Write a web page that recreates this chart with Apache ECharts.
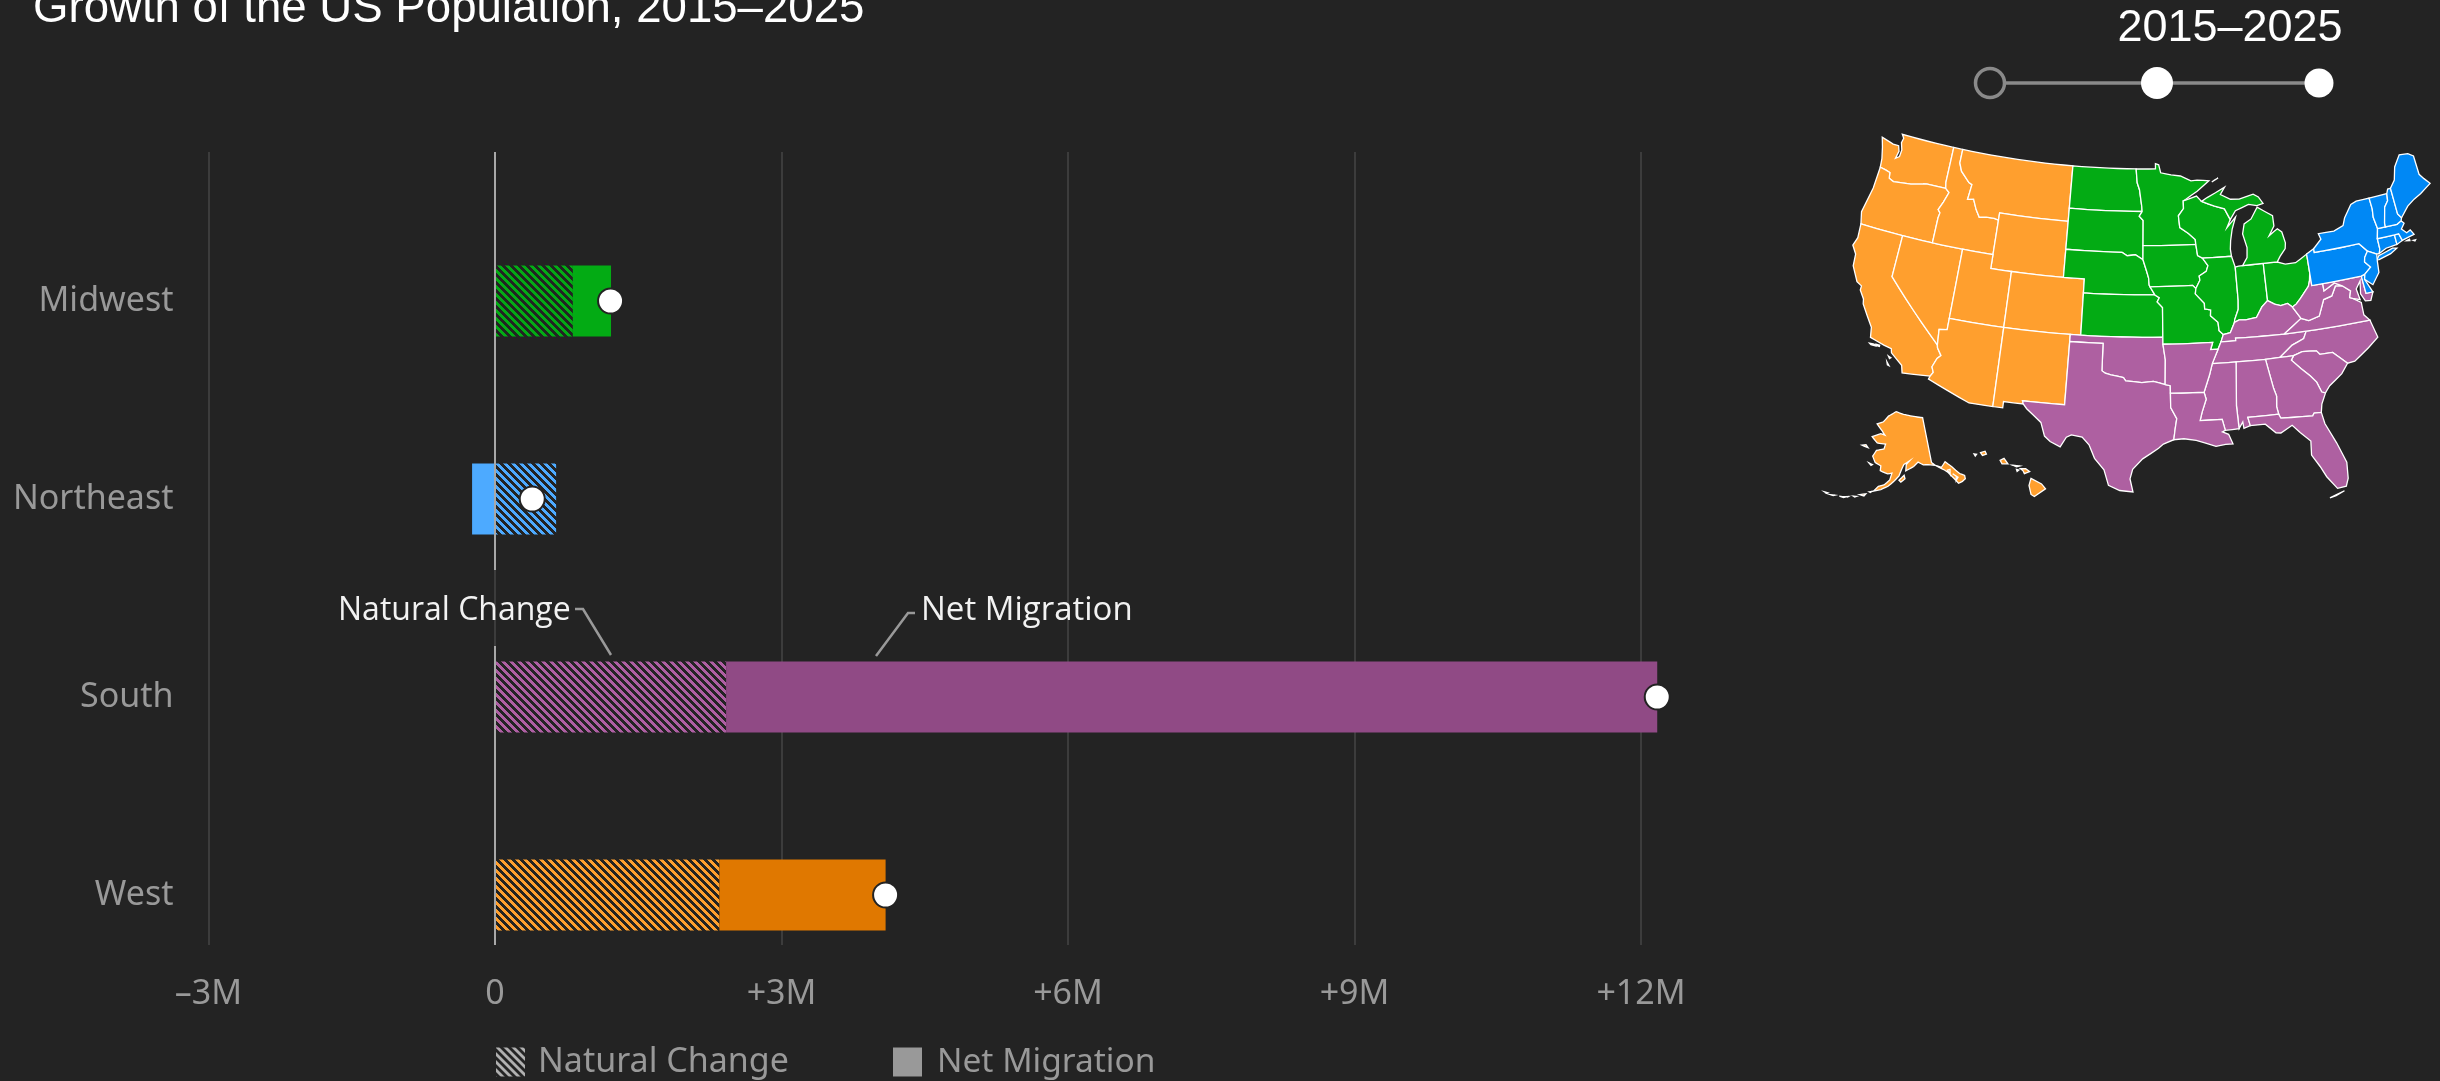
<!DOCTYPE html>
<html><head><meta charset="utf-8">
<style>html,body{margin:0;padding:0;background:#232323}#c{width:2440px;height:1081px}</style>
<script src="https://cdn.jsdelivr.net/npm/echarts@6/dist/echarts.min.js"></script>
</head><body><div id="c"></div>
<script>
// ---------- chart data (millions of people) ----------
const categories   = ['Midwest', 'Northeast', 'South', 'West'];
const naturalChange = [0.815, 0.64, 2.42, 2.35];
const netMigration  = [0.40, -0.24, 9.75, 1.74];
const totalChange   = [1.21, 0.39, 12.17, 4.09];
const hatchColors  = ['#03ab14', '#4daaff', '#ae5fa3', '#ff9f2e'];
const solidColors  = ['#03ab14', '#4daaff', '#904a85', '#e07800'];
const sliderLabel  = '2015–2025';

// ---------- map regions ----------
const regionColors = {West:'#ff9f2e', Midwest:'#03ab14', Northeast:'#0088f5', South:'#ae60a1'};
const regionStates = {
  West: ['WA','OR','CA','NV','ID','MT','WY','UT','CO','AZ','NM','AK','HI'],
  Midwest: ['ND','SD','NE','KS','MN','IA','MO','WI','IL','IN','OH','MI'],
  Northeast: ['PA','NY','NJ','DE','CT','RI','MA','VT','NH','ME'],
  South: ['OK','TX','KY','TN','NC','VA','WV','MD','SC','GA','AL','MS','LA','AR','FL']
};
// simplified state outlines, lon,lat
const stateRings = {
WA:['-124.73,48.38 -124.4,47.7 -124.1,46.9 -124,46.27 -123.4,46.2 -122.9,46.1 -122.8,45.7 -122.3,45.55 -121.2,45.65 -120.5,45.7 -119.3,45.93 -118.98,46 -116.92,46 -117.04,46.42 -117.04,49 -122.76,49 -122.5,48.75 -122.6,48.4 -122.35,47.9 -122.4,47.4 -122.75,47.2 -122.6,47.75 -122.8,48.13 -123.4,48.13'],
OR:['-124,46.27 -124.07,44.7 -124.5,42.85 -124.2,42 -117.03,42 -117.03,43.83 -116.95,44.2 -117.2,44.4 -116.85,45 -116.5,45.75 -116.92,46 -118.98,46 -119.3,45.93 -120.5,45.7 -121.2,45.65 -122.3,45.55 -122.8,45.7 -122.9,46.1 -123.4,46.2'],
CA:['-124.2,42 -120,42 -120,39 -114.63,35 -114.57,34.8 -114.14,34.3 -114.43,34.05 -114.72,33.4 -114.52,33.03 -114.72,32.72 -117.12,32.53 -117.3,33.05 -118.4,33.75 -118.5,34.03 -119.2,34.15 -120.5,34.45 -120.65,35.15 -121.9,36.6 -122,36.95 -122.5,37.5 -122.5,37.8 -123,38 -123.75,39 -123.85,39.85 -124.35,40.4 -124.1,41',
    '-120.45,34.03 -120.05,34.05 -119.9,33.95 -120.3,33.95','-119.9,34.08 -119.55,34.07 -119.55,33.98 -119.9,34','-118.6,33.48 -118.35,33.4 -118.45,33.32','-118.6,33.05 -118.35,32.82 -118.5,32.85'],
NV:['-120,42 -114.04,42 -114.04,36.2 -114.75,36.1 -114.63,35 -120,39'],
ID:['-117.04,49 -116.05,49 -116.05,48 -115.7,47.45 -114.7,46.75 -114.35,46.65 -114.5,45.55 -113.9,45.65 -113.45,44.95 -113,44.45 -112.3,44.55 -111.5,44.55 -111.05,44.48 -111.05,42 -117.03,42 -117.03,43.83 -116.95,44.2 -117.2,44.4 -116.85,45 -116.5,45.75 -116.92,46 -117.04,46.42'],
MT:['-116.05,49 -104.05,49 -104.05,45 -111.05,45 -111.05,44.48 -111.5,44.55 -112.3,44.55 -113,44.45 -113.45,44.95 -113.9,45.65 -114.5,45.55 -114.35,46.65 -114.7,46.75 -115.7,47.45 -116.05,48'],
WY:['-111.05,45 -104.05,45 -104.05,41 -111.05,41'],
UT:['-114.04,42 -111.05,42 -111.05,41 -109.05,41 -109.05,37 -114.04,37'],
CO:['-109.05,41 -102.05,41 -102.05,37 -109.05,37'],
AZ:['-114.04,37 -109.05,37 -109.05,31.33 -111.07,31.33 -114.81,32.5 -114.72,32.72 -114.52,33.03 -114.72,33.4 -114.43,34.05 -114.14,34.3 -114.57,34.8 -114.63,35 -114.75,36.1 -114.04,36.2'],
NM:['-109.05,37 -103,37 -103.04,32 -106.62,32 -106.53,31.78 -108.21,31.78 -108.21,31.33 -109.05,31.33'],
ND:['-104.05,49 -97.23,49 -97.1,48 -96.85,47.5 -96.6,46.3 -96.56,45.94 -104.05,45.94'],
SD:['-104.05,45.94 -96.56,45.94 -96.85,45.6 -96.45,45.3 -96.45,43.5 -96.45,42.5 -97.2,42.85 -98,42.77 -98.5,43 -104.05,43'],
NE:['-104.05,43 -98.5,43 -98,42.77 -97.2,42.85 -96.45,42.5 -96.1,41.7 -95.9,41.2 -95.85,40.7 -95.31,40 -102.05,40 -102.05,41 -104.05,41'],
KS:['-102.05,40 -95.31,40 -94.9,39.8 -95.1,39.5 -94.61,39.11 -94.62,37 -102.05,37'],
OK:['-103,37 -94.62,37 -94.62,36.5 -94.43,35.4 -94.48,33.64 -95.5,33.88 -96.5,33.78 -97.2,33.85 -97.9,33.9 -98.1,34.13 -99.2,34.3 -99.7,34.4 -100,34.56 -100,36.5 -103,36.5'],
TX:['-103,36.5 -100,36.5 -100,34.56 -99.7,34.4 -99.2,34.3 -98.1,34.13 -97.9,33.9 -97.2,33.85 -96.5,33.78 -95.5,33.88 -94.48,33.64 -94.04,33.55 -94.04,33.02 -94.04,32 -93.55,31.2 -93.7,30.5 -93.84,29.7 -94.7,29.4 -95.1,29.1 -96.4,28.35 -97.2,27.6 -97.4,26.9 -97.15,25.96 -98.2,26.05 -99.1,26.4 -99.5,27.5 -100.3,28.3 -100.8,29.25 -101.4,29.77 -102.3,29.88 -102.7,29.7 -103.15,28.98 -104,29.3 -104.5,29.65 -104.9,30.6 -106.2,31.47 -106.53,31.78 -106.62,32 -103.04,32'],
MN:['-97.23,49 -95.15,49 -95.15,49.38 -94.8,49.3 -94.6,48.72 -93.5,48.55 -92.5,48.45 -91.4,48.07 -90.75,48.1 -89.5,48 -90.8,47.3 -92.05,46.75 -92.3,46.65 -92.3,46.1 -92.85,45.6 -92.75,44.75 -91.9,44.3 -91.25,43.85 -91.22,43.5 -96.45,43.5 -96.45,45.3 -96.85,45.6 -96.56,45.94 -96.6,46.3 -96.85,47.5 -97.1,48'],
IA:['-96.45,43.5 -91.22,43.5 -91.1,42.7 -90.64,42.5 -90.15,41.95 -90.35,41.55 -91.05,41.25 -91,40.95 -91.42,40.38 -91.72,40.61 -95.77,40.58 -95.85,40.7 -95.9,41.2 -96.1,41.7 -96.45,42.5'],
MO:['-95.77,40.58 -91.72,40.61 -91.42,40.38 -91.5,40 -90.7,39.3 -90.7,38.9 -90.15,38.8 -90.2,38.4 -89.55,37.9 -89.5,37.3 -89.15,37 -89.4,36.5 -89.7,36 -90.37,36 -90.15,36.5 -94.62,36.5 -94.62,37 -94.61,39.11 -95.1,39.5 -94.9,39.8 -95.31,40'],
WI:['-92.05,46.7 -90.9,46.95 -90.4,46.55 -89.1,46.15 -88.1,45.9 -87.6,45.1 -88,44.55 -87.05,45.25 -87.5,44.4 -87.75,43.6 -87.85,43 -87.8,42.49 -90.64,42.5 -91.1,42.7 -91.22,43.5 -91.25,43.85 -91.9,44.3 -92.75,44.75 -92.85,45.6 -92.3,46.1 -92.3,46.65'],
IL:['-90.64,42.5 -87.8,42.49 -87.53,41.7 -87.53,39.35 -87.6,38.7 -88,38 -88.05,37.8 -88.5,37.1 -89.15,37 -89.5,37.3 -89.55,37.9 -90.2,38.4 -90.15,38.8 -90.7,38.9 -90.7,39.3 -91.5,40 -91.42,40.38 -91,40.95 -91.05,41.25 -90.35,41.55 -90.15,41.95'],
IN:['-87.53,41.7 -87.2,41.75 -86.8,41.76 -84.8,41.76 -84.81,39.1 -85.4,38.7 -86,38 -86.5,37.95 -87,37.9 -87.6,37.95 -88.05,37.8 -88,38 -87.6,38.7 -87.53,39.35'],
OH:['-84.8,41.76 -83.45,41.73 -82.7,41.5 -81.7,41.5 -80.52,41.98 -80.52,40.64 -80.65,40.1 -80.85,39.7 -81.75,38.95 -82.2,38.6 -82.6,38.42 -83,38.72 -83.65,38.63 -84.2,38.8 -84.81,39.1'],
MI:['-86.8,41.76 -84.8,41.76 -83.45,41.73 -83.1,42.1 -82.5,42.6 -82.4,43 -82.6,43.8 -83,44.07 -83.4,43.9 -83.9,43.65 -83.3,44.3 -83.3,45.05 -84.75,45.78 -85.5,45 -86.25,44.7 -86.5,44 -86.2,43 -86.3,42.3',
    '-90.4,46.55 -89.1,46.15 -88.1,45.9 -87.6,45.1 -87,45.7 -85.6,46.05 -84.75,45.9 -84.1,46 -84.5,46.5 -85,46.75 -86.5,46.5 -87.4,46.55 -88.4,46.95 -87.9,47.45 -88.9,47.1 -89.8,46.8','-89.2,47.9 -88.5,48.15 -88.9,48.02'],
KY:['-89.4,36.5 -89.15,37 -88.5,37.1 -88.05,37.8 -87.6,37.95 -87,37.9 -86.5,37.95 -86,38 -85.4,38.7 -84.81,39.1 -84.2,38.8 -83.65,38.63 -83,38.72 -82.6,38.42 -81.97,37.54 -83.68,36.6 -88.07,36.68 -88.07,36.5'],
TN:['-90.3,35 -89.7,36 -89.4,36.5 -88.07,36.5 -88.07,36.68 -83.68,36.6 -81.68,36.59 -82,36.1 -83.1,35.75 -84.32,35 -85.6,34.98 -88.2,35'],
NC:['-81.68,36.59 -75.87,36.55 -75.5,35.25 -76.5,34.65 -77.9,33.9 -78.55,33.86 -79.67,34.8 -80.8,34.82 -81.05,35.1 -82.3,35.2 -83.1,35 -84.32,35 -83.1,35.75 -82,36.1'],
VA:['-81.97,37.54 -83.68,36.6 -81.68,36.59 -75.87,36.55 -76.3,37 -76.3,37.9 -77,38.3 -77.25,38.4 -77.05,38.85 -77.72,39.32 -78.35,39.4 -78.85,38.75 -79.65,38.6 -80.3,37.5 -81.3,37.3'],
WV:['-80.52,40.64 -80.52,39.72 -79.48,39.72 -79.48,39.2 -78.4,39.62 -77.72,39.32 -78.35,39.4 -78.85,38.75 -79.65,38.6 -80.3,37.5 -81.3,37.3 -81.97,37.54 -82.6,38.42 -82.2,38.6 -81.75,38.95 -80.85,39.7 -80.65,40.1'],
MD:['-79.48,39.72 -75.79,39.72 -75.7,38.46 -75.05,38.45 -75.4,37.9 -75.9,37.95 -76.2,38.5 -76,39.4 -76.5,38.9 -76.35,38.1 -77,38.3 -77.25,38.4 -77.05,38.85 -77.72,39.32 -78.4,39.62 -79.48,39.2'],
DE:['-75.79,39.72 -75.42,39.8 -75.55,39.45 -75.05,38.45 -75.7,38.46'],
SC:['-83.1,35 -82.3,35.2 -81.05,35.1 -80.8,34.82 -79.67,34.8 -78.55,33.86 -79.2,33.2 -80.4,32.5 -80.85,32.05 -81.15,32.15 -81.45,32.9 -81.9,33.4 -82.6,34 -83.35,34.7'],
GA:['-85.6,34.98 -84.32,35 -83.1,35 -83.35,34.7 -82.6,34 -81.9,33.4 -81.45,32.9 -81.15,32.15 -80.85,32.05 -81.3,31.3 -81.45,30.72 -82.05,30.75 -82.2,30.57 -84.86,30.7 -85,31 -85.1,31.55 -85,32.3 -85.18,32.87'],
AL:['-88.2,35 -85.6,34.98 -85.18,32.87 -85,32.3 -85.1,31.55 -85,31 -87.6,31 -87.45,30.4 -88,30.25 -88.05,30.7 -88.4,30.25 -88.47,31.9'],
MS:['-90.3,35 -88.2,35 -88.47,31.9 -88.4,30.25 -89.55,30.2 -89.75,31 -91.6,31 -91.4,31.6 -91,32.5 -91.15,33 -90.6,34.2'],
LA:['-94.04,33.02 -91.15,33 -91,32.5 -91.4,31.6 -91.6,31 -89.75,31 -89.55,30.2 -89.8,30.1 -89.3,29.9 -89,29.2 -89.6,29.2 -90.4,29.1 -91.3,29.4 -92,29.6 -93,29.75 -93.84,29.7 -93.7,30.5 -93.55,31.2 -94.04,32'],
AR:['-94.62,36.5 -90.15,36.5 -90.37,36 -89.7,36 -90.3,35 -90.6,34.2 -91.15,33 -94.04,33.02 -94.04,33.55 -94.48,33.64 -94.43,35.4'],
FL:['-87.6,31 -85,31 -84.86,30.7 -82.2,30.57 -82.05,30.75 -81.45,30.72 -81.3,29.9 -80.6,28.4 -80.05,26.9 -80.15,25.75 -80.4,25.2 -81.1,25.15 -81.8,26.1 -82.2,26.9 -82.75,27.8 -82.65,28.8 -83.4,29.5 -84,30.1 -85,29.65 -85.4,29.7 -86.2,30.4 -87.45,30.4','-81.8,24.55 -81.3,24.65 -80.6,24.9 -81.3,24.7'],
PA:['-80.52,41.98 -79.76,42.27 -79.76,42 -75.35,42 -74.7,41.36 -75.1,40.95 -75.2,40.65 -74.75,40.2 -75.42,39.8 -75.79,39.72 -80.52,39.72'],
NY:['-79.76,42.27 -78.9,42.85 -79.05,43.27 -77.5,43.25 -76.5,43.5 -76.2,44 -75.3,44.85 -74.7,45 -73.35,45 -73.3,44.2 -73.4,43.6 -73.25,42.75 -73.5,42.05 -73.5,41.3 -73.65,41 -73.9,41 -74.7,41.36 -75.35,42 -79.76,42','-74,40.6 -73.75,40.85 -72.3,41.15 -71.9,41.07 -72.6,40.8 -73.8,40.58'],
NJ:['-74.7,41.36 -73.9,41 -74,40.5 -74.1,39.7 -74.9,38.95 -75.55,39.45 -75.42,39.8 -74.75,40.2 -75.2,40.65 -75.1,40.95'],
CT:['-73.65,41 -73.5,41.3 -73.5,42.05 -71.8,42.02 -71.8,41.32 -72.9,41.25'],
RI:['-71.8,42.02 -71.38,42.02 -71.2,41.5 -71.8,41.32'],
MA:['-73.5,42.05 -73.25,42.75 -72.46,42.73 -71.3,42.7 -70.82,42.87 -70.6,42.65 -71,42.3 -70.6,41.95 -70.2,42.07 -69.95,41.7 -70.6,41.6 -71.2,41.5 -71.38,42.02 -71.8,42.02','-70.8,41.4 -70.5,41.45 -70.5,41.35','-70.2,41.3 -69.95,41.3 -70.05,41.22'],
VT:['-73.35,45 -71.5,45 -71.6,44.5 -72.05,44.1 -72.45,43 -72.46,42.73 -73.25,42.75 -73.4,43.6 -73.3,44.2'],
NH:['-71.5,45 -71.3,45.3 -71,45.3 -70.98,43.4 -70.7,43.07 -70.82,42.87 -71.3,42.7 -72.46,42.73 -72.45,43 -72.05,44.1 -71.6,44.5'],
ME:['-71,45.3 -70.4,45.8 -70,46.7 -69.2,47.45 -68.3,47.35 -67.8,47.07 -67.8,45.7 -67.45,45.3 -67,44.85 -68.2,44.35 -69,44.1 -69.8,43.75 -70.7,43.07 -70.98,43.4'],
AK:['-141,69.65 -141,60.3 -139.8,59.6 -137.5,58.9 -135.5,59.8 -133.5,58.4 -131.5,56.6 -130,55.9 -130.2,55.2 -131.5,54.9 -133,54.8 -134,56 -135.5,57.5 -136.6,58.2 -139.8,59.6 -142.5,60 -144.5,60.1 -146.5,60.8 -148.5,60 -151.8,59.2 -151.5,60.5 -150,61.2 -152.5,60.5 -153.5,59.5 -154.5,58.2 -156.5,57 -158.5,56 -161,55.2 -163.5,54.7 -162,55.8 -160,56.2 -158,57.3 -157.3,58.7 -159,58.5 -162,59 -162,60 -164.5,60.5 -166,61.7 -164.8,63 -161.5,63.5 -161,64.5 -165,64.5 -168,65.6 -164,66.5 -161.8,66.3 -163.5,67.1 -166.8,68.35 -163.5,69 -161,70.3 -156.6,71.35 -152,70.8 -146,70.2',
    '-154.5,57.3 -152.5,58.3 -152.2,57.6 -153.8,56.9','-171.7,63.4 -168.8,63.2 -170,63.7','-167,60.2 -165.5,60 -166,59.8','-165,54.4 -164,54.6 -164.5,54.3','-168,53.5 -166,53.9 -166.5,53.4','-170,52.9 -169,53 -169.5,52.8','-172.5,52.4 -171.5,52.6 -171.8,52.4','-174.5,52.1 -172.5,52.3 -173,52.1','-177.5,51.8 -176,52 -176.5,51.8','-179.5,51.9 -178.5,51.95 -178.8,51.8','-135.5,58 -134.5,58 -135,57','-134,57 -133,56.3 -133.5,55.5 -132.5,56'],
HI:['-155.9,20.25 -155.1,19.85 -154.8,19.5 -155.65,18.95 -155.9,19.1 -156.05,19.75','-156.7,20.95 -156.3,20.95 -156,20.75 -156.4,20.6 -156.5,20.8','-157.3,21.2 -156.75,21.15 -157,21.08','-157,20.9 -156.82,20.85 -156.95,20.75','-158.25,21.55 -157.95,21.7 -157.65,21.3 -158.1,21.3','-159.75,22.1 -159.4,22.2 -159.3,22 -159.6,21.9','-160.25,22 -160.05,21.98 -160.15,21.85']
};

// ---------- Albers USA composite projection ----------
const DEG = Math.PI / 180, K = 801;
function conic(lambda0, p1, p2, cLon, cLat, scale, tx, ty) {
  const n = (Math.sin(p1*DEG) + Math.sin(p2*DEG)) / 2;
  const c = Math.cos(p1*DEG)**2 + 2*n*Math.sin(p1*DEG);
  const raw = (lon, lat) => {
    const r = Math.sqrt(c - 2*n*Math.sin(lat*DEG)) / n, t = n*(lon - lambda0)*DEG;
    return [r*Math.sin(t), -r*Math.cos(t)];
  };
  const o = raw(cLon, cLat);
  return (lon, lat) => { const q = raw(lon, lat); return [tx + scale*(q[0]-o[0]), ty - scale*(q[1]-o[1])]; };
}
const TX = 2141.1, TY = 313.3;
const lower48 = conic(-96, 29.5, 45.5, -96.6, 38.7, K, TX, TY);
const alaska  = conic(-154, 55, 65, -156, 58.5, 0.35*K, TX-0.307*K, TY+0.201*K);
const hawaii  = conic(-157, 8, 18, -160, 19.9, K, TX-0.205*K, TY+0.212*K);
const project = p => (p[1] > 50 && p[0] < -128) ? alaska(p[0], p[1])
                   : (p[1] < 25 && p[0] < -150) ? hawaii(p[0], p[1]) : lower48(p[0], p[1]);

function parseRing(s) {
  const pts = s.split(' ').map(t => t.split(',').map(Number)), out = [];
  pts.push(pts[0]);
  for (let i = 0; i < pts.length - 1; i++) {        // follow parallels and meridians on the cone
    const a = pts[i], b = pts[i+1], steps = Math.max(1, Math.ceil(Math.abs(b[0]-a[0])));
    for (let j = 0; j < steps; j++) out.push([a[0]+(b[0]-a[0])*j/steps, a[1]+(b[1]-a[1])*j/steps]);
  }
  out.push(pts[0]);
  return out;
}
const features = Object.keys(stateRings).map(name => ({
  type:'Feature', properties:{name},
  geometry:{type:'MultiPolygon', coordinates: stateRings[name].map(r => [parseRing(r)])}
}));
echarts.registerMap('usa', {type:'FeatureCollection', features});

let minX=1e9,minY=1e9,maxX=-1e9,maxY=-1e9;
features.forEach(f => f.geometry.coordinates.forEach(pg => pg[0].forEach(p => {
  const q = project(p);
  minX=Math.min(minX,q[0]); maxX=Math.max(maxX,q[0]); minY=Math.min(minY,q[1]); maxY=Math.max(maxY,q[1]);
})));
const mapData = [];
Object.keys(regionStates).forEach(r => regionStates[r].forEach(s =>
  mapData.push({name:s, itemStyle:{areaColor:regionColors[r]}})));

// ---------- hatch pattern ----------
function hatch(color) {
  const cv = document.createElement('canvas'); cv.width = cv.height = 8;
  const g = cv.getContext('2d'); g.fillStyle = color;
  for (let y=0;y<8;y++) for (let x=0;x<8;x++) if (((x-y)%8+8)%8 < 4) g.fillRect(x,y,1,1);
  return {image: cv, repeat:'repeat'};
}

const FONT = 'Noto Sans', GREY = '#999999';
const chart = echarts.init(document.getElementById('c'), null, {renderer:'canvas', width:2440, height:1081});
const axisFmt = v => v === 0 ? '0' : (v < 0 ? '–' + (-v) + 'M' : '+' + v + 'M');
const lineStyleLeader = {stroke:'#999999', lineWidth:2.5, fill:null};
chart.setOption({
  animation:false,
  backgroundColor:'#232323',
  title:{text:'Growth of the US Population, 2015–2025', left:33, top:-14, padding:0,
    textStyle:{color:'#ffffff', fontFamily:'Liberation Sans', fontSize:45.6, fontWeight:'normal'}},
  legend:[
    {data:[{name:'Natural Change', icon:'rect'}], left:496, top:1045, padding:0, itemWidth:29, itemHeight:29, selectedMode:false,
     textStyle:{color:GREY, fontSize:34, fontFamily:FONT, padding:[2,0,0,8]}},
    {data:[{name:'Net Migration', icon:'rect'}], left:893, top:1045, padding:0, itemWidth:29, itemHeight:29, selectedMode:false,
     textStyle:{color:GREY, fontSize:33.5, fontFamily:FONT, padding:[2,0,0,10]}}
  ],
  grid:[
    {left:208.5, width:1719, top:202, height:792},
    {left:208.5, width:1432.5, top:152, height:793}
  ],
  xAxis:[
    {gridIndex:0, type:'value', min:-3, max:15, interval:3, show:false},
    {gridIndex:1, type:'value', min:-3, max:12, interval:3, position:'bottom',
     axisLine:{show:false}, axisTick:{show:false},
     axisLabel:{formatter:axisFmt, color:GREY, fontSize:34, fontFamily:FONT, margin:32},
     splitLine:{show:true, lineStyle:{color:'#3c3c3c', width:2}}}
  ],
  yAxis:[
    {gridIndex:0, type:'category', data:categories, inverse:true,
     axisLine:{show:false}, axisTick:{show:false}, splitLine:{show:false},
     axisLabel:{color:GREY, fontSize:34, fontFamily:FONT, margin:35, padding:[12,0,0,0]}},
    {gridIndex:1, type:'value', show:false, min:0, max:1, splitLine:{show:false}}
  ],
  series:[
    {name:'Natural Change', type:'bar', stack:'t', xAxisIndex:0, yAxisIndex:0, barWidth:71,
     itemStyle:{color:hatch('#b0b0b0')},
     data:naturalChange.map((v,i)=>({value:v, itemStyle:{color:hatch(hatchColors[i])}})), silent:true},
    {name:'Net Migration', type:'bar', stack:'t', xAxisIndex:0, yAxisIndex:0, barWidth:71,
     itemStyle:{color:GREY},
     data:netMigration.map((v,i)=>({value:v, itemStyle:{color:solidColors[i]}})), silent:true},
    {name:'Total', type:'scatter', xAxisIndex:0, yAxisIndex:0, symbol:'circle', symbolSize:25, z:5,
     itemStyle:{color:'#ffffff', borderColor:'#232323', borderWidth:2, opacity:1},
     data:totalChange.map((v,i)=>[v, categories[i]]), silent:true},
    {name:'Regions', type:'map', map:'usa', silent:true, selectedMode:false,
     projection:{project, unproject:p=>p},
     left:minX, top:minY, width:maxX-minX, height:maxY-minY,
     label:{show:false}, emphasis:{disabled:true},
     itemStyle:{borderColor:'#ffffff', borderWidth:1.3, areaColor:'#ae60a1'},
     data:mapData}
  ],
  graphic:[
    // bright zero line, dimmed behind the annotation
    {type:'line', z:20, shape:{x1:495,y1:152,x2:495,y2:570}, style:{stroke:'#a8a8a8', lineWidth:2}},
    {type:'line', z:20, shape:{x1:495,y1:646,x2:495,y2:945}, style:{stroke:'#a8a8a8', lineWidth:2}},
    // annotations
    {type:'text', z:21, x:338, y:611, style:{text:'Natural Change', fill:'#f2f2f2', font:'32px "Open Sans"', textVerticalAlign:'middle'}},
    {type:'polyline', z:20, shape:{points:[[575,609],[583,609],[611,655]]}, style:lineStyleLeader},
    {type:'text', z:21, x:921, y:611, style:{text:'Net Migration', fill:'#f2f2f2', font:'33px "Open Sans"', textVerticalAlign:'middle'}},
    {type:'polyline', z:20, shape:{points:[[915,613],[908,613],[876,656]]}, style:lineStyleLeader},
    // period slider
    {type:'text', z:21, x:2230, y:29, style:{text:sliderLabel, fill:'#ffffff', font:'45px "Liberation Sans"', textAlign:'center', textVerticalAlign:'middle'}},
    {type:'line', z:20, shape:{x1:2005,y1:83,x2:2319,y2:83}, style:{stroke:'#8a8a8a', lineWidth:3.5}},
    {type:'circle', z:21, shape:{cx:1990,cy:83,r:14.5}, style:{stroke:'#8a8a8a', lineWidth:3.5, fill:'#232323'}},
    {type:'circle', z:21, shape:{cx:2157,cy:83,r:16}, style:{fill:'#ffffff'}},
    {type:'circle', z:21, shape:{cx:2319,cy:83,r:14.5}, style:{fill:'#ffffff'}}
  ]
});
</script></body></html>
